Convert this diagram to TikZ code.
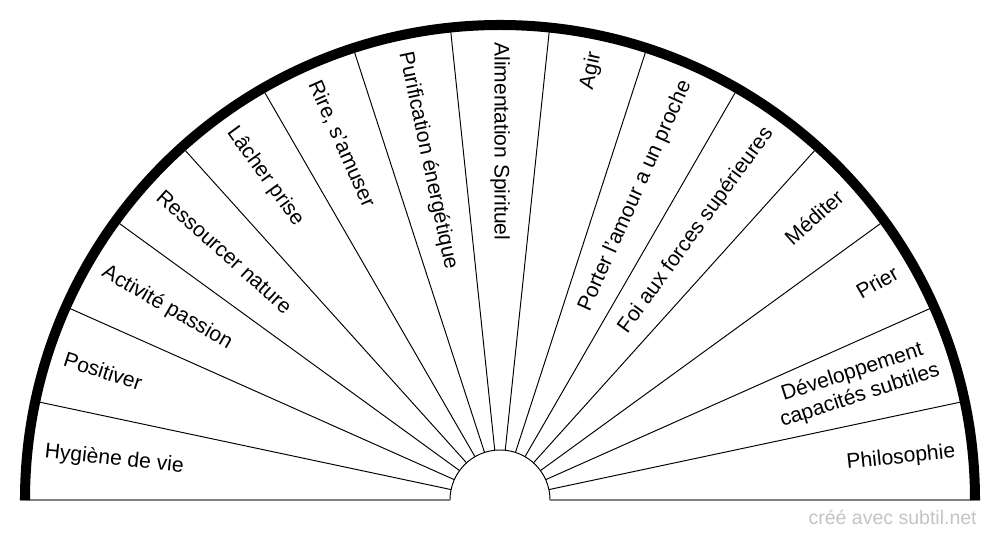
\documentclass[tikz,border=0pt]{standalone}
\usepackage{fontspec}
\setmainfont{Liberation Sans}
\usepackage{tikz}
\usetikzlibrary{calc}
\definecolor{baseGray}{HTML}{808080}
\definecolor{signGray}{HTML}{C4C4C4}

\begin{document}
\begin{tikzpicture}[x=0.02cm, y=0.02cm,
    spoke/.style={line width=0.55pt, black},
    rim/.style={line width=5.7pt, black},
    label/.style={inner sep=0pt, font=\fontsize{12}{14}\selectfont},
    leftlabel/.style={label, anchor=west},
    rightlabel/.style={label, anchor=east}]
    % Radii of the chart
    \def\ROut{475}
    \def\RIn{50}
    \def\RText{458}
    \useasboundingbox (-500,-40) rectangle (500,500);

    % Spokes between the 15 sectors
    \foreach \a in {12,24,...,168}
        \draw[spoke] (\a:\RIn) -- (\a:\ROut);

    % Inner half circle and base line
    \draw[spoke] (\RIn,0) arc (0:180:\RIn);
    \draw[line width=1.1pt, baseGray] (-480,0) -- (-\RIn,0);
    \draw[line width=1.1pt, baseGray] (\RIn,0) -- (480,0);

    % Thick outer rim
    \draw[rim] (\ROut,0) arc (0:180:\ROut);

    % Labels on the left half
    \foreach \ang/\txt/\nm in {174/Hygiène de vie/hyg, 162/Positiver/pos,
        150/Activité passion/act, 138/Ressourcer nature/res,
        126/Lâcher prise/lac, 114/{Rire, s'amuser}/rir,
        102/Purification énergétique/pur, 90/Alimentation Spirituel/ali}
        \node[leftlabel, rotate=\ang-180] (\nm) at (\ang:\RText) {\txt};

    % Labels on the right half
    \foreach \ang/\txt/\nm in {78/Agir/agi, 66/Porter l'amour a un proche/por,
        54/Foi aux forces supérieures/foi, 42/Méditer/med, 30/Prier/pri,
        6/Philosophie/phi}
        \node[rightlabel, rotate=\ang] (\nm) at (\ang:\RText) {\txt};
    \node[rightlabel, rotate=18, align=center] (dev) at (18:\RText)
        {Développement\\capacités subtiles};

    % Signature
    \node[anchor=base east, inner sep=0pt, text=signGray,
        font=\fontsize{11.1}{13}\selectfont] (sign) at (477,-25) {créé avec subtil.net};
\end{tikzpicture}
\end{document}
